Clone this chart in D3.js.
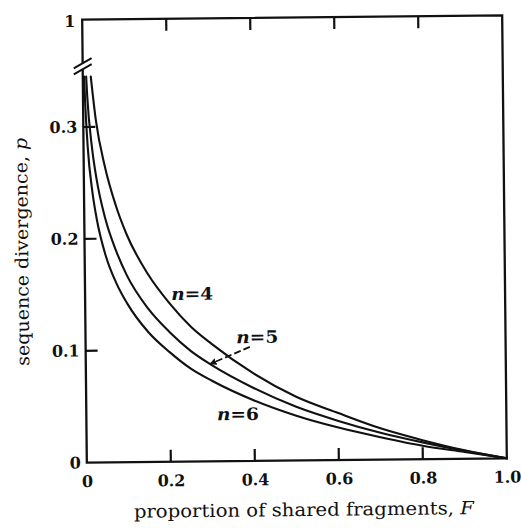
<!DOCTYPE html>
<html>
<head>
<meta charset="utf-8">
<script src="https://cdn.jsdelivr.net/npm/d3@7"></script>
<style>
  html, body { margin: 0; padding: 0; background: #fff; }
  svg { display: block; }
</style>
</head>
<body>
<svg id="chart" width="521" height="528"></svg>
<script>
// Proportion of shared fragments F and sequence divergence p, for recognition sites of n bases
const fractionN4 = [0.019, 0.03, 0.05, 0.075, 0.1, 0.15, 0.2, 0.25, 0.3, 0.4, 0.5, 0.6, 0.7, 0.8, 0.9, 1.0];
const divergenceN4 = [0.345, 0.306, 0.265, 0.230, 0.204, 0.168, 0.142, 0.121, 0.105, 0.078, 0.057, 0.042, 0.028, 0.017, 0.0075, 0];

const fractionN5 = [0.008, 0.01, 0.02, 0.03, 0.05, 0.075, 0.1, 0.15, 0.2, 0.25, 0.3, 0.4, 0.5, 0.6, 0.7, 0.8, 0.9, 1.0];
const divergenceN5 = [0.345, 0.328, 0.282, 0.254, 0.218, 0.189, 0.167, 0.137, 0.116, 0.099, 0.086, 0.065, 0.048, 0.035, 0.024, 0.015, 0.007, 0];

const fractionN6 = [0.003, 0.005, 0.01, 0.02, 0.03, 0.05, 0.075, 0.1, 0.15, 0.2, 0.25, 0.3, 0.4, 0.5, 0.6, 0.7, 0.8, 0.9, 1.0];
const divergenceN6 = [0.345, 0.322, 0.282, 0.242, 0.217, 0.185, 0.160, 0.142, 0.116, 0.098, 0.083, 0.072, 0.054, 0.040, 0.029, 0.020, 0.012, 0.006, 0];

const seriesNames = ["4", "5", "6"];
// label anchor (F, p) for each curve label
const labelF = [0.205, 0.359, 0.311];
const labelP = [0.1446, 0.1054, 0.0366];
// dashed pointer from the n=5 label to its curve: [start, tip]
const pointerF = [0.391, 0.296];
const pointerP = [0.102, 0.087];

const xTickValues = [0, 0.2, 0.4, 0.6, 0.8, 1.0];
const xTickLabels = ["0", "0.2", "0.4", "0.6", "0.8", "1.0"];
const yTickValues = [0, 0.1, 0.2, 0.3];
const yTickLabels = ["0", "0.1", "0.2", "0.3"];
const yTopLabel = "1";

const plotLeft = 84.5, plotRight = 504.5, plotTop = 17.5, plotBottom = 460.5;
const breakY = 64;
const tickLen = 12;
const tickWidth = 2.2;

const svg = d3.select("#chart");
const root = svg.append("g").attr("transform", "rotate(-0.6, 294, 239)");

const x = d3.scaleLinear().domain([0, 1]).range([plotLeft, plotRight]);
const y = d3.scaleLinear().domain([0, 0.35]).range([plotBottom, plotBottom - 0.35 * 1119]);

const ink = "#111";
const tickFont = "'DejaVu Serif', 'Liberation Serif', serif";

// bottom axis labels
const xAxis = d3.axisBottom(x)
  .tickValues(xTickValues)
  .tickFormat((d, i) => xTickLabels[i])
  .tickSize(0).tickPadding(13);
const gx = root.append("g").attr("transform", `translate(0,${plotBottom})`).call(xAxis);
gx.select(".domain").remove();
gx.selectAll(".tick line").remove();
gx.selectAll(".tick text").attr("fill", ink)
  .style("font-family", tickFont).style("font-weight", "bold").style("font-size", "16px");

// left axis labels
const yAxis = d3.axisLeft(y)
  .tickValues(yTickValues)
  .tickFormat((d, i) => yTickLabels[i])
  .tickSize(0).tickPadding(6);
const gy = root.append("g").attr("transform", `translate(${plotLeft},0)`).call(yAxis);
gy.select(".domain").remove();
gy.selectAll(".tick line").remove();
gy.selectAll(".tick text").attr("fill", ink)
  .style("font-family", tickFont).style("font-weight", "bold").style("font-size", "16px");

// label for the top of the broken axis
root.append("text")
  .attr("x", plotLeft - 7).attr("y", plotTop + 2).attr("dy", "0.32em")
  .attr("text-anchor", "end").attr("fill", ink)
  .style("font-family", tickFont).style("font-weight", "bold").style("font-size", "16px")
  .text(yTopLabel);

// frame with a break in the left axis
const frame = d3.path();
frame.moveTo(plotLeft, breakY - 3);
frame.lineTo(plotLeft, plotTop);
frame.lineTo(plotRight, plotTop);
frame.lineTo(plotRight, plotBottom);
frame.lineTo(plotLeft, plotBottom);
frame.lineTo(plotLeft, breakY + 3);
root.append("path").attr("d", frame.toString())
  .attr("fill", "none").attr("stroke", ink).attr("stroke-width", 2.3)
  .attr("stroke-linejoin", "miter");

const breakPath = d3.path();
[breakY - 3, breakY + 3].forEach(by => {
  breakPath.moveTo(plotLeft - 9, by + 5);
  breakPath.lineTo(plotLeft + 9, by - 5);
});
root.append("path").attr("d", breakPath.toString())
  .attr("fill", "none").attr("stroke", ink).attr("stroke-width", 2);

// curves
const line = d3.line()
  .x(d => x(d[0])).y(d => y(d[1]))
  .curve(d3.curveMonotoneX);

const series = [
  d3.zip(fractionN4, divergenceN4),
  d3.zip(fractionN5, divergenceN5),
  d3.zip(fractionN6, divergenceN6)
];
root.append("g").selectAll("path").data(series).join("path")
  .attr("d", line)
  .attr("fill", "none").attr("stroke", ink).attr("stroke-width", 2.1)
  .attr("stroke-linecap", "round");

// curve labels: italic n, then "=k"
const labels = root.append("g");
seriesNames.forEach((name, i) => {
  const t = labels.append("text")
    .attr("x", x(labelF[i])).attr("y", y(labelP[i]))
    .attr("fill", ink)
    .attr("textLength", 42).attr("lengthAdjust", "spacingAndGlyphs")
    .style("font-family", tickFont).style("font-weight", "bold").style("font-size", "17px");
  t.append("tspan").style("font-style", "italic").text("n");
  t.append("tspan").text("=" + name);
});

// dashed pointer with arrowhead
svg.append("defs").append("marker")
  .attr("id", "arrowhead")
  .attr("viewBox", "0 0 10 10")
  .attr("refX", 9).attr("refY", 5)
  .attr("markerWidth", 7).attr("markerHeight", 7)
  .attr("markerUnits", "userSpaceOnUse")
  .attr("orient", "auto")
  .append("path").attr("d", "M0,0 L10,5 L0,10 z").attr("fill", ink);

const pointer = d3.path();
pointer.moveTo(x(pointerF[0]), y(pointerP[0]));
pointer.lineTo(x(pointerF[1]), y(pointerP[1]));
root.append("path").attr("d", pointer.toString())
  .attr("fill", "none").attr("stroke", ink).attr("stroke-width", 1.8)
  .attr("stroke-dasharray", "7,3")
  .attr("marker-end", "url(#arrowhead)");

// axis titles
const titleFont = "'DejaVu Serif', 'Liberation Serif', serif";
const xt = root.append("text")
  .attr("x", 301).attr("y", 516)
  .attr("text-anchor", "middle").attr("fill", ink)
  .attr("textLength", 340).attr("lengthAdjust", "spacingAndGlyphs")
  .style("font-family", titleFont).style("font-size", "18px");
xt.append("tspan").text("proportion of shared fragments, ");
xt.append("tspan").style("font-style", "italic").text("F");

const yt = root.append("text")
  .attr("transform", "translate(28,249) rotate(-90)")
  .attr("text-anchor", "middle").attr("fill", ink)
  .attr("textLength", 228).attr("lengthAdjust", "spacingAndGlyphs")
  .style("font-family", titleFont).style("font-size", "18px");
yt.append("tspan").text("sequence divergence, ");
yt.append("tspan").style("font-style", "italic").text("p");

// inward tick marks on the bottom, top and left edges, drawn last as filled bars
const innerX = xTickValues.filter(d => d > 0 && d < 1);
const innerY = yTickValues.filter(d => d > 0);
const tickMarks = root.append("g").attr("fill", ink);
tickMarks.selectAll("rect.bottom-tick").data(innerX).join("rect")
  .attr("class", "bottom-tick")
  .attr("x", d => x(d) - tickWidth / 2).attr("y", plotBottom - tickLen)
  .attr("width", tickWidth).attr("height", tickLen);
tickMarks.selectAll("rect.top-tick").data(innerX).join("rect")
  .attr("class", "top-tick")
  .attr("x", d => x(d) - tickWidth / 2).attr("y", plotTop)
  .attr("width", tickWidth).attr("height", tickLen);
tickMarks.selectAll("rect.left-tick").data(innerY).join("rect")
  .attr("class", "left-tick")
  .attr("x", plotLeft).attr("y", d => y(d) - tickWidth / 2)
  .attr("width", tickLen).attr("height", tickWidth);
</script>
</body>
</html>
